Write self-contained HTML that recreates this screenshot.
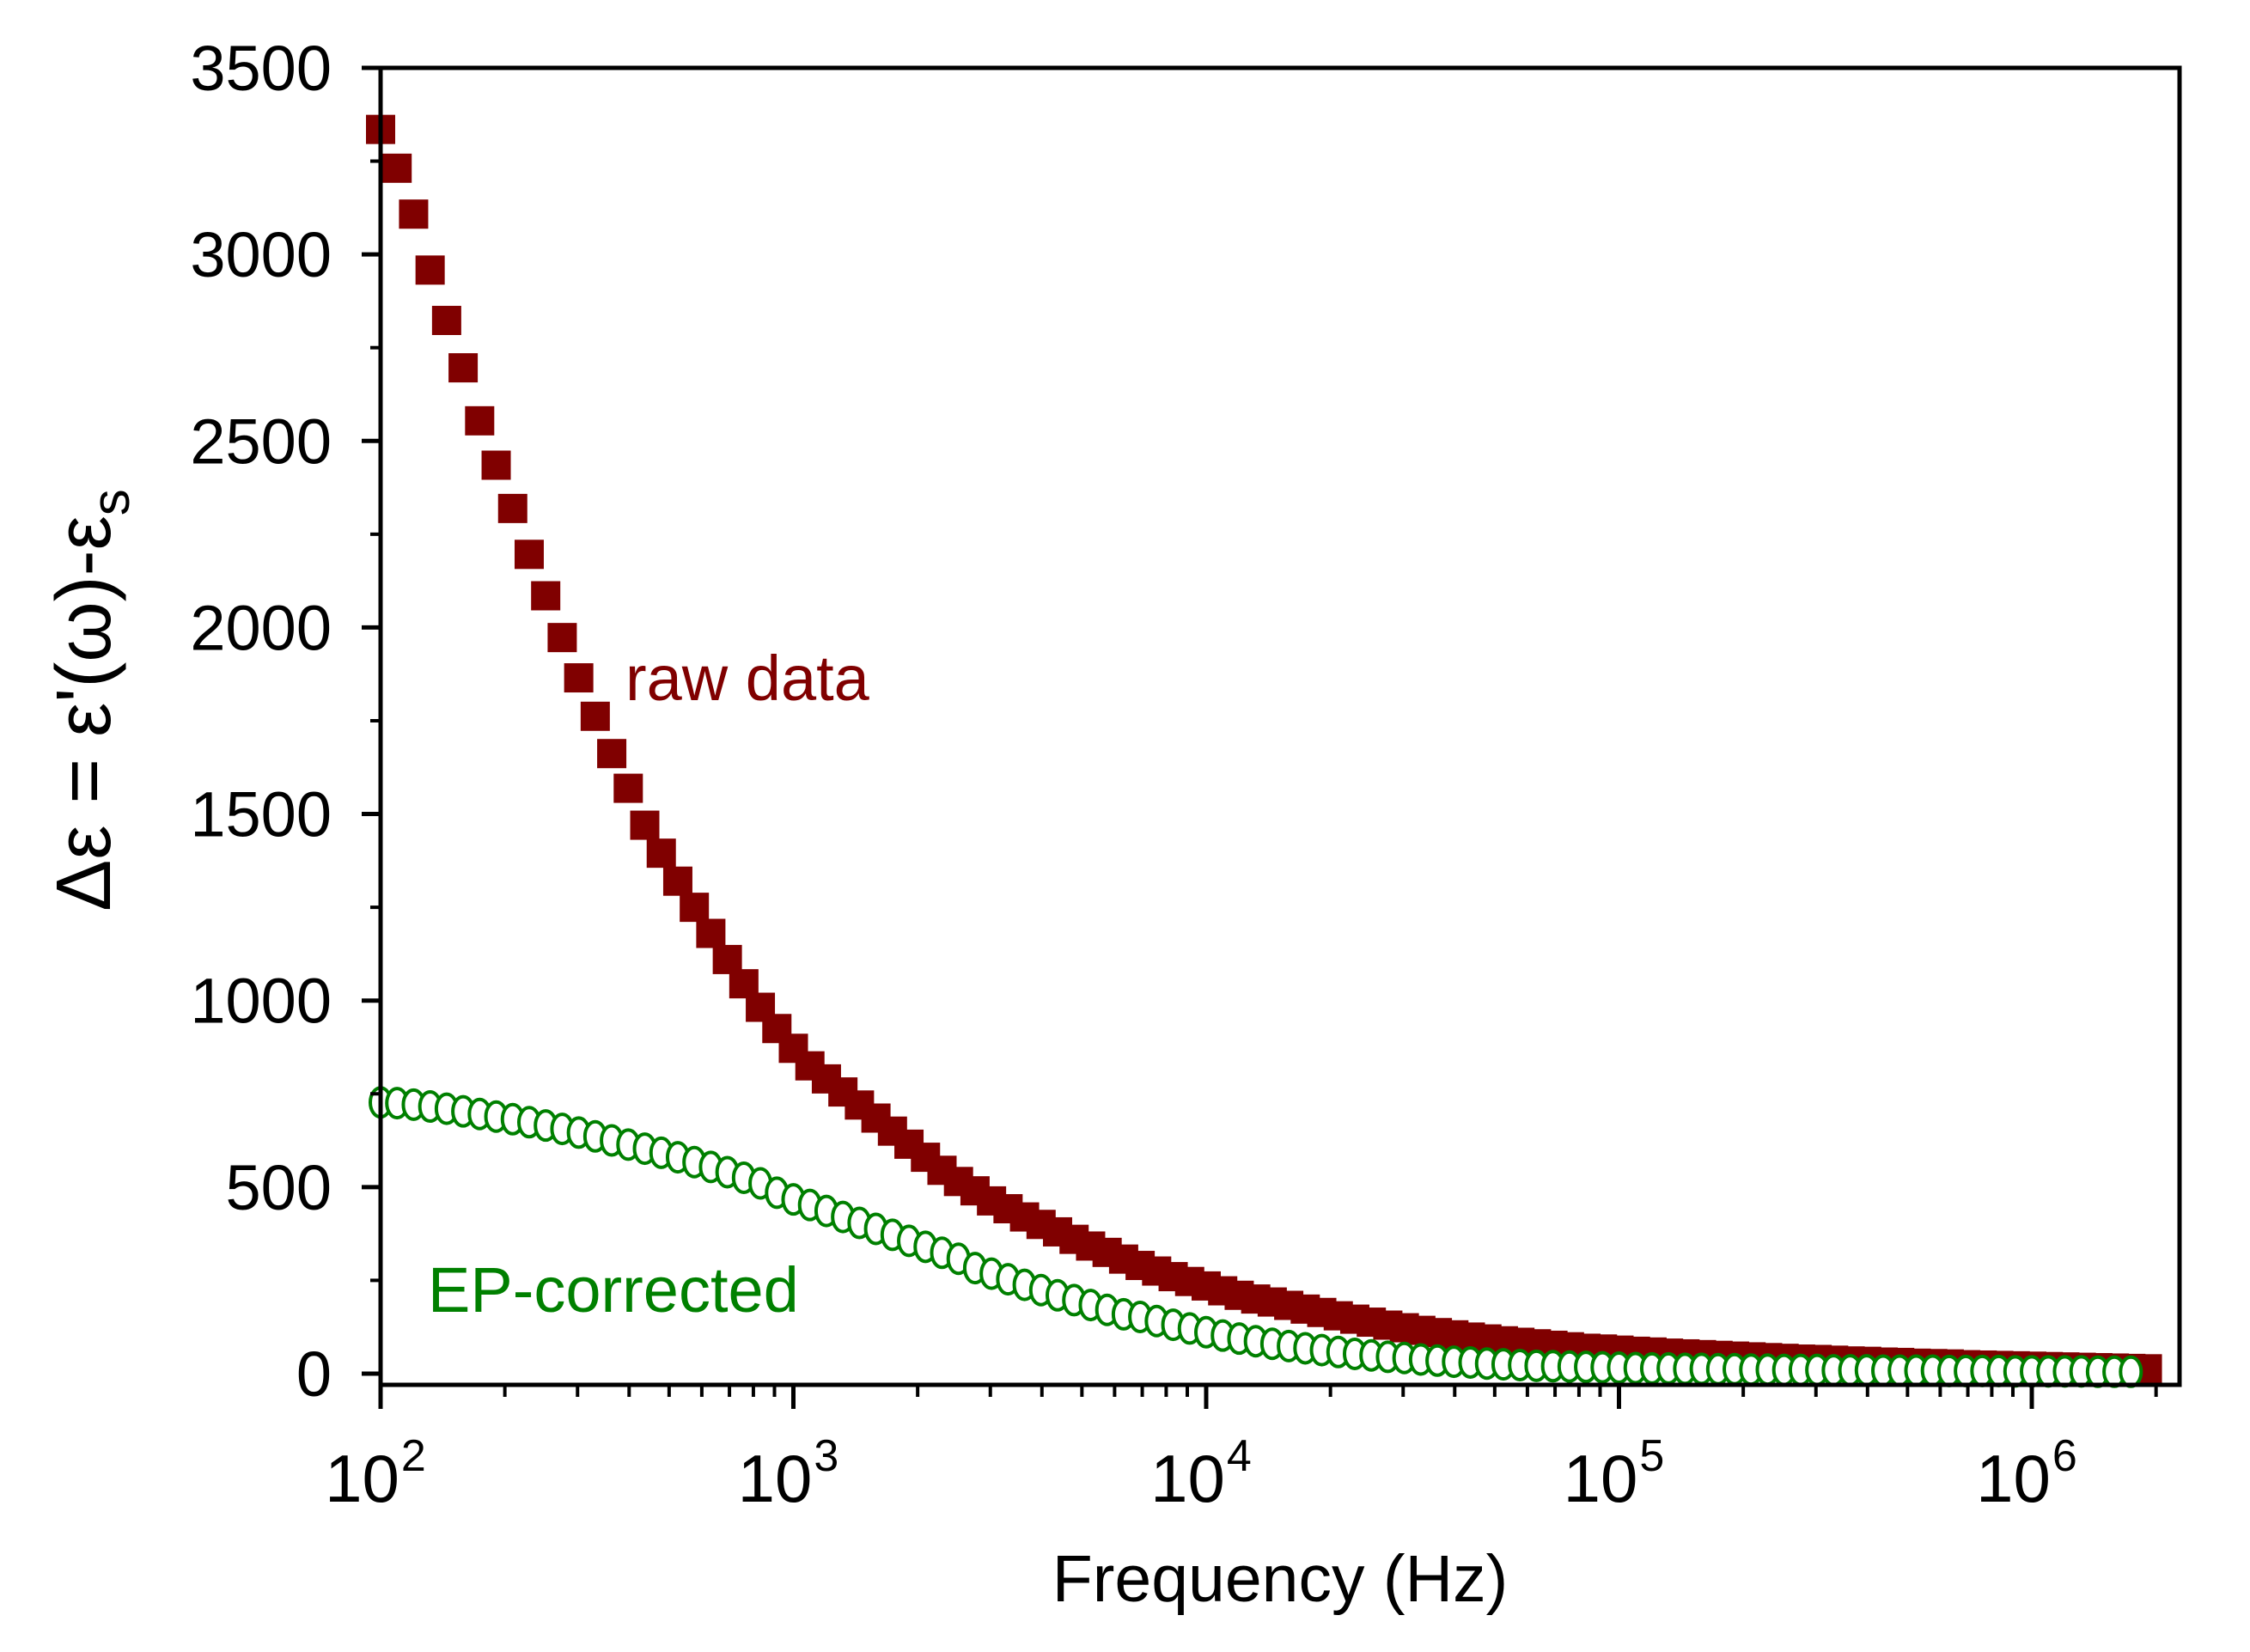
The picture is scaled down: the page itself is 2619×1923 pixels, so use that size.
<!DOCTYPE html>
<html><head><meta charset="utf-8"><style>
html,body{margin:0;padding:0;background:#fff;}
svg{display:block;font-family:"Liberation Sans",Arial,sans-serif;}
</style></head><body>
<svg id="chart" width="2619" height="1923" viewBox="0 0 2619 1923">
<g id="marks"></g>
<g id="axes"></g>
</svg>
<script>
const rawValues=[3335,3231,3108,2958,2823,2696,2554,2435,2319,2196,2085,1973,1865,1762,1662,1569,1470,1395,1320,1250,1180,1110,1045,982,925,872,825,790,755,720,685,650,615,580,545,515,490,463,442,420,400,380,360,342,325,307,290,275,260,247,235,222,210,200,192,183,173,164,155,146,138,130,123,116,110,104,98,93,88,84,80,76,72,68,66,63,60,58,55,53,51,49,47,45,43,41,39,38,36,34,33,31,30,28,27,26,24,23,22,21,20,19,18,17,16,15,14,13];
const correctedValues=[727,725,721,716,710,703,696,689,682,674,665,656,646,636,625,614,603,592,580,567,554,540,525,510,485,467,452,436,420,404,388,372,356,340,324,308,283,268,253,238,224,210,197,184,171,159,152,141,131,121,111,102,94,87,80,74,68,63,58,53,49,45,42,38,35,32,30,27,25,23,21,20,19,18,17,16,15,14,14,13,13,12,12,11,11,10,10,10,9,9,9,8,8,8,8,7,7,7,7,6,6,6,6,6,5,5,5];
const yTicks=[0,500,1000,1500,2000,2500,3000,3500];
const xDecades=[2,3,4,5,6];
const logStart=2, logStep=0.04;

const NS='http://www.w3.org/2000/svg';
const L=443,R=2537,T=79,B=1612;
const xMinLog=2,xMaxLog=2+(R-L)/480.5;
const yMin=-30,yMax=3500;
function xs(logf){return L+(logf-xMinLog)/(xMaxLog-xMinLog)*(R-L);}
function ys(v){return B-(v-yMin)/(yMax-yMin)*(B-T);}
function mk(tag,attrs,parent){const e=document.createElementNS(NS,tag);for(const k in attrs)e.setAttribute(k,attrs[k]);parent.appendChild(e);return e;}
const marks=document.getElementById('marks'),axes=document.getElementById('axes');

rawValues.forEach((v,i)=>{
  const cx=xs(logStart+i*logStep),cy=ys(v);
  const r=mk('rect',{x:cx-17,y:cy-17,width:34,height:34,fill:'#800000'},marks);
  
  
});
correctedValues.forEach((v,i)=>{
  const cx=xs(logStart+i*logStep),cy=ys(v);
  const e=mk('ellipse',{cx:cx,cy:cy,rx:12,ry:17,fill:'#fff',stroke:'#008000','stroke-width':4},marks);
  
  
});

const frame=mk('rect',{x:L,y:T,width:R-L,height:B-T,fill:'none',stroke:'#000','stroke-width':5},axes);



yTicks.forEach(t=>{
  const y=ys(t);
  mk('line',{x1:L-22,x2:L,y1:y,y2:y,stroke:'#000','stroke-width':5},axes);
  const tx=mk('text',{x:386,y:y+26,'text-anchor':'end','font-size':74,fill:'#000'},axes);
  tx.textContent=t;
  
  
});
for(let t=250;t<3500;t+=500){const y=ys(t);mk('line',{x1:L-12,x2:L,y1:y,y2:y,stroke:'#000','stroke-width':4},axes);}

xDecades.forEach(d=>{
  const x=xs(d);
  mk('line',{x1:x,x2:x,y1:B,y2:B+28,stroke:'#000','stroke-width':5},axes);
  for(let m=2;m<=9;m++){const xm=xs(d+Math.log10(m));if(xm<=R)mk('line',{x1:xm,x2:xm,y1:B,y2:B+14,stroke:'#000','stroke-width':4},axes);}
  const tx=mk('text',{x:x-6,y:1748,'text-anchor':'middle','font-size':78,fill:'#000'},axes);
  tx.textContent='10';
  const sp=mk('tspan',{dx:2,dy:-36,'font-size':52},tx);
  sp.textContent=d;
  
  
});
</script>
<svg style="position:absolute;left:0;top:0" width="2619" height="1923">
<text x="1490" y="1864" text-anchor="middle" font-size="77" font-family="Liberation Sans, sans-serif">Frequency (Hz)</text>
<text transform="translate(128,815) rotate(-90)" text-anchor="middle" font-size="90" font-family="Liberation Sans, DejaVu Sans, sans-serif">Δε = ε'(ω)-ε<tspan dy="22" font-size="62">s</tspan></text>
<text x="728" y="815" font-size="74" fill="#800000" font-family="Liberation Sans, sans-serif">raw data</text>
<text x="498" y="1527" font-size="74" fill="#008000" font-family="Liberation Sans, sans-serif">EP-corrected</text>
</svg>
</body></html>
